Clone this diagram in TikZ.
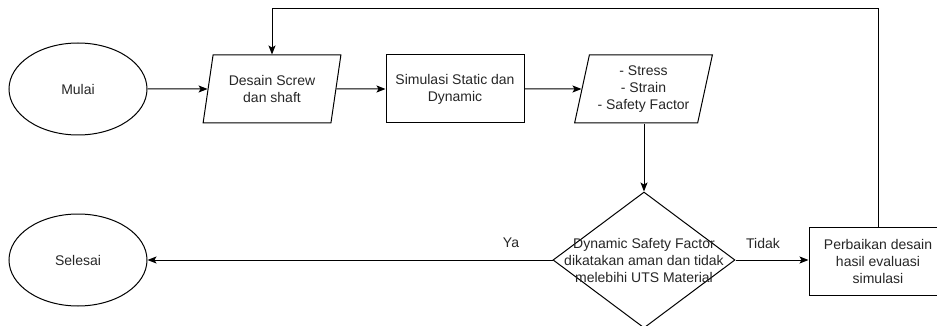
\documentclass[tikz,border=0pt]{standalone}
\usepackage{fontspec}
\setmainfont{Liberation Sans}
\usetikzlibrary{shapes.geometric,arrows.meta}

\tikzset{
  every node/.style={font=\fontsize{14}{17}\selectfont, text=black!85, align=center},
  flow/.style={draw=black, line width=1pt},
  terminal/.style={flow, ellipse, minimum width=138, minimum height=92, inner sep=0pt},
  process/.style={flow, rectangle, minimum width=138, minimum height=68, inner sep=0pt},
  iobox/.style={flow, trapezium, trapezium left angle=75, trapezium right angle=105,
    trapezium stretches=true, minimum width=138, minimum height=68, inner sep=0pt},
  decision/.style={flow, diamond, minimum width=182, minimum height=136, inner sep=0pt},
  link/.style={draw=black, line width=1pt, -{Stealth[length=9pt, width=7pt, inset=2pt]}},
  tag/.style={inner sep=0pt}
}

\begin{document}
\begin{tikzpicture}[x=1pt, y=-1pt]
  \useasboundingbox (0,0) rectangle (937,326);
  \clip (0,0) rectangle (937,326);

  % top row
  \node[terminal] (mulai) at (78,89) {Mulai};
  \node[iobox] (desain) at (272,89) {Desain Screw\\dan shaft};
  \node[process] (sim) at (455,89) {Simulasi Static dan\\Dynamic};
  \node[iobox] (out) at (643.5,89) {- Stress\\- Strain\\- Safety Factor};

  % bottom row
  \node[terminal] (selesai) at (78,260) {Selesai};
  \node[decision] (dia) at (644,260) {};
  \node[tag] (diatext) at (644,260) {Dynamic Safety Factor\\dikatakan aman dan tidak\\melebihi UTS Material};
  \node[process] (per) at (878,261) {Perbaikan desain\\hasil evaluasi\\simulasi};

  % connectors
  \draw[link] (mulai.east) -- (desain.west);
  \draw[link] (desain.east) -- (sim.west);
  \draw[link] (sim.east) -- (out.west);
  \draw[link] (dia.north |- out.south) -- (dia.north);
  \draw[link] (dia.east) -- (dia.east -| per.west);
  \draw[link] (dia.west) -- (selesai.east);

  % loop back from the correction step to the design step
  \coordinate (loop) at (272,9);
  \draw[link] (per.north) |- (loop) -- (loop |- desain.north);

  % branch labels
  \node[tag] (ya) at (511,243) {Ya};
  \node[tag] (tidak) at (763,243) {Tidak};
\end{tikzpicture}
\end{document}
